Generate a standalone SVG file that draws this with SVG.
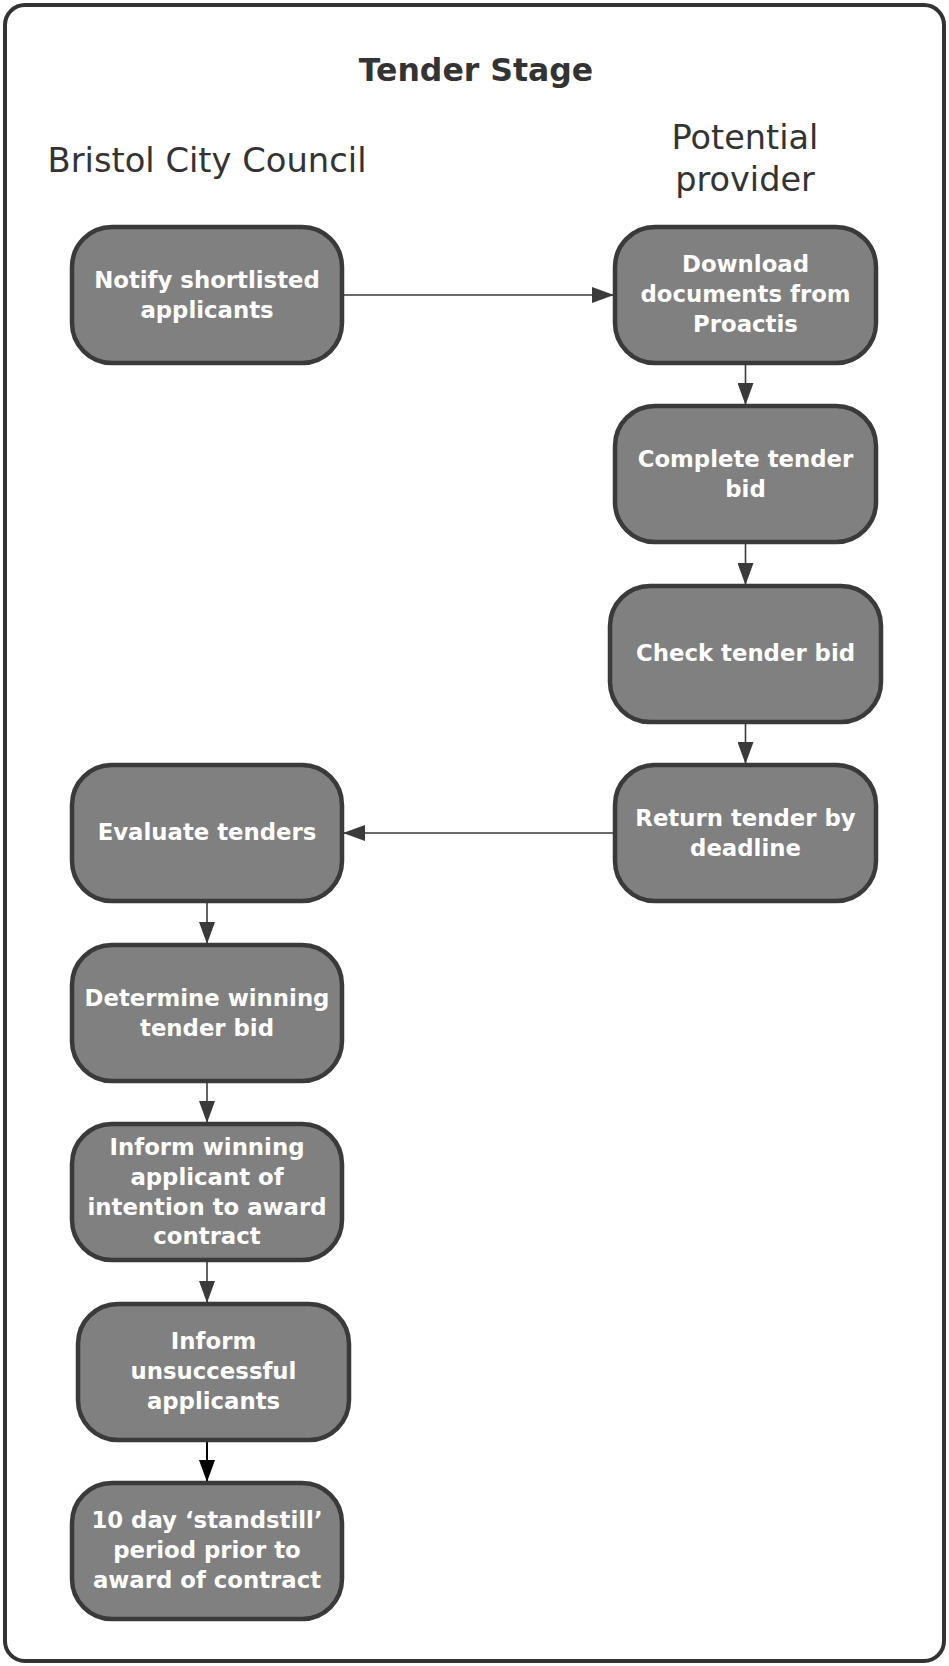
<svg xmlns="http://www.w3.org/2000/svg" width="949" height="1666" viewBox="0 0 949 1666">
<style>
.frame{fill:#fff;stroke:#333;stroke-width:4}
.node rect{fill:#808080;stroke:#3a3a3a;stroke-width:4.5}
.node text{fill:#fff;font-family:"DejaVu Sans","Liberation Sans",sans-serif;font-weight:bold;font-size:22.8px;text-anchor:middle}
.title{fill:#333;font-family:"DejaVu Sans","Liberation Sans",sans-serif;font-weight:bold;font-size:31.5px;text-anchor:middle}
.lane{fill:#333;font-family:"DejaVu Sans","Liberation Sans",sans-serif;font-size:33.5px;text-anchor:middle}
.conn{stroke:#3a3a3a;stroke-width:1.6;fill:none}
.connb{stroke:#000;stroke-width:2;fill:none}
</style>
<defs>
<marker id="ah" markerWidth="22" markerHeight="16" refX="21" refY="8" orient="auto" markerUnits="userSpaceOnUse"><path d="M0,0 L22,8 L0,16 Z" fill="#3a3a3a"/></marker>
<marker id="ahb" markerWidth="22" markerHeight="16" refX="21" refY="8" orient="auto" markerUnits="userSpaceOnUse"><path d="M0,0 L22,8 L0,16 Z" fill="#000"/></marker>
</defs>
<rect class="frame" x="5" y="5" width="939" height="1656" rx="20"/>
<text class="title" x="476" y="81">Tender Stage</text>
<text class="lane" x="207" y="172" textLength="319" lengthAdjust="spacingAndGlyphs">Bristol City Council</text>
<text class="lane" x="745" y="149">Potential</text>
<text class="lane" x="745" y="191">provider</text>
<g id="connectors">
<line class="conn" x1="343" y1="295" x2="613" y2="295" marker-end="url(#ah)"/>
<line class="conn" x1="745.5" y1="364" x2="745.5" y2="404" marker-end="url(#ah)"/>
<line class="conn" x1="745.5" y1="543" x2="745.5" y2="584" marker-end="url(#ah)"/>
<line class="conn" x1="745.5" y1="723" x2="745.5" y2="763" marker-end="url(#ah)"/>
<line class="conn" x1="614" y1="833" x2="344" y2="833" marker-end="url(#ah)"/>
<line class="conn" x1="207" y1="902" x2="207" y2="943" marker-end="url(#ah)"/>
<line class="conn" x1="207" y1="1082" x2="207" y2="1122" marker-end="url(#ah)"/>
<line class="conn" x1="207" y1="1261" x2="207" y2="1302" marker-end="url(#ah)"/>
<line class="connb" x1="207" y1="1441" x2="207" y2="1481" marker-end="url(#ahb)"/>
</g>
<g id="n1" class="node"><rect x="72" y="227" width="270" height="136" rx="40"/>
<text x="207" y="288">Notify shortlisted</text><text x="207" y="318">applicants</text></g>
<g id="n2" class="node"><rect x="615" y="227" width="261" height="136" rx="40"/>
<text x="745.5" y="272">Download</text><text x="745.5" y="302">documents from</text><text x="745.5" y="332">Proactis</text></g>
<g id="n3" class="node"><rect x="615" y="406" width="261" height="136" rx="40"/>
<text x="745.5" y="467">Complete tender</text><text x="745.5" y="497">bid</text></g>
<g id="n4" class="node"><rect x="610" y="586" width="271" height="136" rx="40"/>
<text x="745.5" y="661">Check tender bid</text></g>
<g id="n5" class="node"><rect x="615" y="765" width="261" height="136" rx="40"/>
<text x="745.5" y="826">Return tender by</text><text x="745.5" y="856">deadline</text></g>
<g id="n6" class="node"><rect x="72" y="765" width="270" height="136" rx="40"/>
<text x="207" y="840">Evaluate tenders</text></g>
<g id="n7" class="node"><rect x="72" y="945" width="270" height="136" rx="40"/>
<text x="207" y="1006">Determine winning</text><text x="207" y="1036">tender bid</text></g>
<g id="n8" class="node"><rect x="72" y="1124" width="270" height="136" rx="40"/>
<text x="207" y="1155">Inform winning</text><text x="207" y="1185">applicant of</text><text x="207" y="1215">intention to award</text><text x="207" y="1244">contract</text></g>
<g id="n9" class="node"><rect x="78" y="1304" width="271" height="136" rx="40"/>
<text x="213.5" y="1349">Inform</text><text x="213.5" y="1379">unsuccessful</text><text x="213.5" y="1409">applicants</text></g>
<g id="n10" class="node"><rect x="72" y="1483" width="270" height="136" rx="40"/>
<text x="207" y="1528">10 day ‘standstill’</text><text x="207" y="1558">period prior to</text><text x="207" y="1588">award of contract</text></g>
</svg>
